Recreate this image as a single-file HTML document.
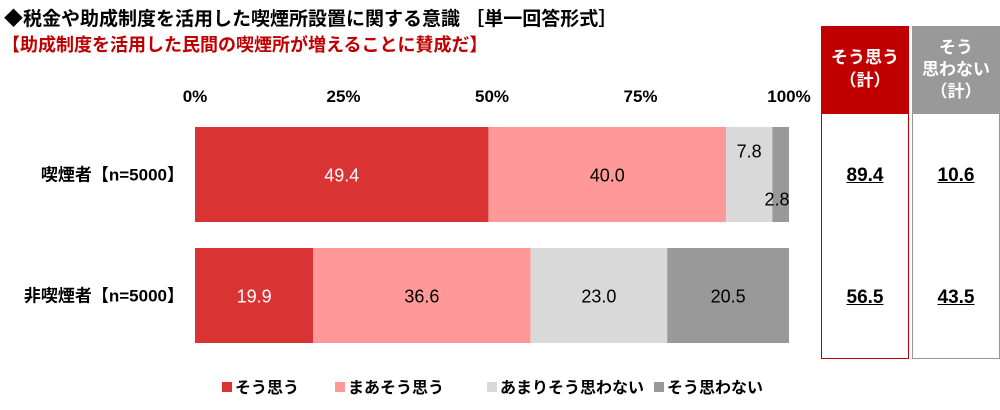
<!DOCTYPE html>
<html><head><meta charset="utf-8"><style>
body{margin:0;width:1000px;height:410px;background:#fff;font-family:"Liberation Sans","Noto Sans CJK JP",sans-serif;position:relative;overflow:hidden}
.t{position:absolute;white-space:nowrap;font-weight:bold}
</style></head><body>
<div class="t" style="left:4px;top:4px;font-size:19px;color:#000">◆税金や助成制度を活用した喫煙所設置に関する意識 ［単一回答形式］</div>
<div class="t" style="left:2px;top:31px;font-size:18px;color:#c00000">【助成制度を活用した民間の喫煙所が増えることに賛成だ】</div>
<svg id="chart" width="1000" height="410" style="position:absolute;left:0;top:0"></svg>
<div style="position:absolute;left:821px;top:26px;width:86px;height:331px;border:1px solid #c00000">
 <div style="background:#c00000;color:#fff;height:87px;text-align:center;font-weight:bold;font-size:17px;line-height:23px;padding-top:19px;box-sizing:border-box">そう思う<br>（計）</div>
 <div class="t" style="left:0;width:86px;text-align:center;top:138px;font-size:19px;text-decoration:underline">89.4</div>
 <div class="t" style="left:0;width:86px;text-align:center;top:260px;font-size:19px;text-decoration:underline">56.5</div>
</div>
<div style="position:absolute;left:912px;top:26px;width:86px;height:331px;border:1px solid #999">
 <div style="background:#999;color:#fff;height:87px;text-align:center;font-weight:bold;font-size:17px;line-height:22px;padding-top:10px;box-sizing:border-box">そう<br>思わない<br>（計）</div>
 <div class="t" style="left:0;width:86px;text-align:center;top:138px;font-size:19px;text-decoration:underline">10.6</div>
 <div class="t" style="left:0;width:86px;text-align:center;top:260px;font-size:19px;text-decoration:underline">43.5</div>
</div>
<script>
const categories=["喫煙者【n=5000】","非喫煙者【n=5000】"];
const seriesNames=["そう思う","まあそう思う","あまりそう思わない","そう思わない"];
const s1=[49.4,19.9];
const s2=[40.0,36.6];
const s3=[7.8,23.0];
const s4=[2.8,20.5];
const ticks=[0,25,50,75,100];
const series=[s1,s2,s3,s4];
const colors=["#d93333","#ff9999","#d9d9d9","#999999"];
const textColors=["#fff","#000","#000","#000"];
const svg=document.getElementById('chart');
const NS="http://www.w3.org/2000/svg";
const x0=195,x1=789;
const xs=v=>x0+(x1-x0)*v/100;
const rowTop=[127,248],barH=95;
function mk(tag,attrs,txt){const e=document.createElementNS(NS,tag);for(const k in attrs)e.setAttribute(k,attrs[k]);if(txt!=null)e.textContent=txt;svg.appendChild(e);return e;}
ticks.forEach(t=>{const e=mk('text',{x:xs(t),y:102,'text-anchor':'middle','font-size':17,'font-weight':'bold'},t+'%');

});
categories.forEach((c,i)=>{
 const y=rowTop[i];
 const l=mk('text',{x:184,y:y+barH/2+6,'text-anchor':'end','font-size':17,'font-weight':'bold'},c);
 
 
 let acc=0;
 series.forEach((s,j)=>{
  const v=s[i];const xa=xs(acc),xb=xs(acc+v);
  const r=mk('rect',{x:xa,y:y,width:xb-xa,height:barH,fill:colors[j]});
  
  
  let tx=(xa+xb)/2,ty=y+barH/2+7,fill=textColors[j];
  if(v<5){tx=xb-12;ty=y+barH/2+31;}
  else if(v<10){ty=y+barH/2-17;}
  const t=mk('text',{x:tx,y:ty,'text-anchor':'middle','font-size':18,fill:fill},v.toFixed(1));
  
  
  acc+=v;
 });
});
const legX=[222,335,487,654];
seriesNames.forEach((n,j)=>{
 const r=mk('rect',{x:legX[j],y:382,width:10,height:10,fill:colors[j]});
 
 
 const t=mk('text',{x:legX[j]+13,y:393,'font-size':16,'font-weight':'bold'},n);
 
 
});
</script>
</body></html>
